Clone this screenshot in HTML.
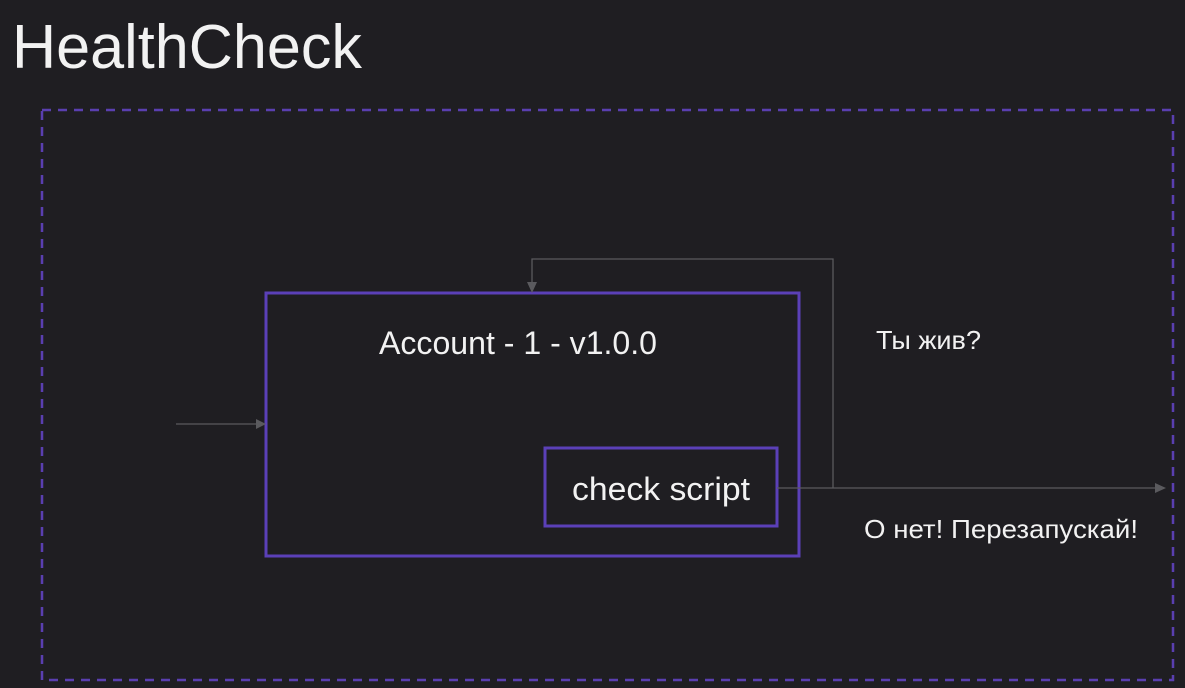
<!DOCTYPE html>
<html><head><style>
html,body{margin:0;padding:0;background:#1f1e22;}
svg{display:block;}
</style></head><body>
<svg width="1185" height="688" viewBox="0 0 1185 688" xmlns="http://www.w3.org/2000/svg" font-family="Liberation Sans, DejaVu Sans, sans-serif">
<rect width="1185" height="688" fill="#1f1e22"/>
<text x="12" y="68" fill="#f2f2f2" font-size="62" textLength="350" lengthAdjust="spacingAndGlyphs">HealthCheck</text>
<rect x="42" y="110" width="1131" height="570" fill="none" stroke="#5a3fb0" stroke-width="2.5" stroke-dasharray="9,7"/>
<rect x="266" y="293" width="533" height="263" fill="none" stroke="#5b40b8" stroke-width="3"/>
<rect x="545" y="448" width="232" height="78" fill="none" stroke="#5b40b8" stroke-width="3"/>
<text x="518" y="354" fill="#f2f2f2" font-size="32" text-anchor="middle" textLength="278" lengthAdjust="spacingAndGlyphs">Account - 1 - v1.0.0</text>
<text x="661" y="500" fill="#f2f2f2" font-size="32" text-anchor="middle" textLength="178" lengthAdjust="spacingAndGlyphs">check script</text>
<g stroke="#5a5a5e" stroke-width="1.3" fill="none">
<line x1="176" y1="424" x2="258" y2="424"/>
<polyline points="777,488 1157,488"/>
<polyline points="833,488 833,259 532,259 532,285"/>
</g>
<g fill="#5a5a5e">
<polygon points="266,424 256,419 256,429"/>
<polygon points="1166,488 1155,483 1155,493"/>
<polygon points="532,293 527,282 537,282"/>
</g>
<text x="876" y="349" fill="#f2f2f2" font-size="26" textLength="105" lengthAdjust="spacingAndGlyphs">Ты жив?</text>
<text x="864" y="538" fill="#f2f2f2" font-size="26" textLength="274" lengthAdjust="spacingAndGlyphs">О нет! Перезапускай!</text>
</svg>
</body></html>
